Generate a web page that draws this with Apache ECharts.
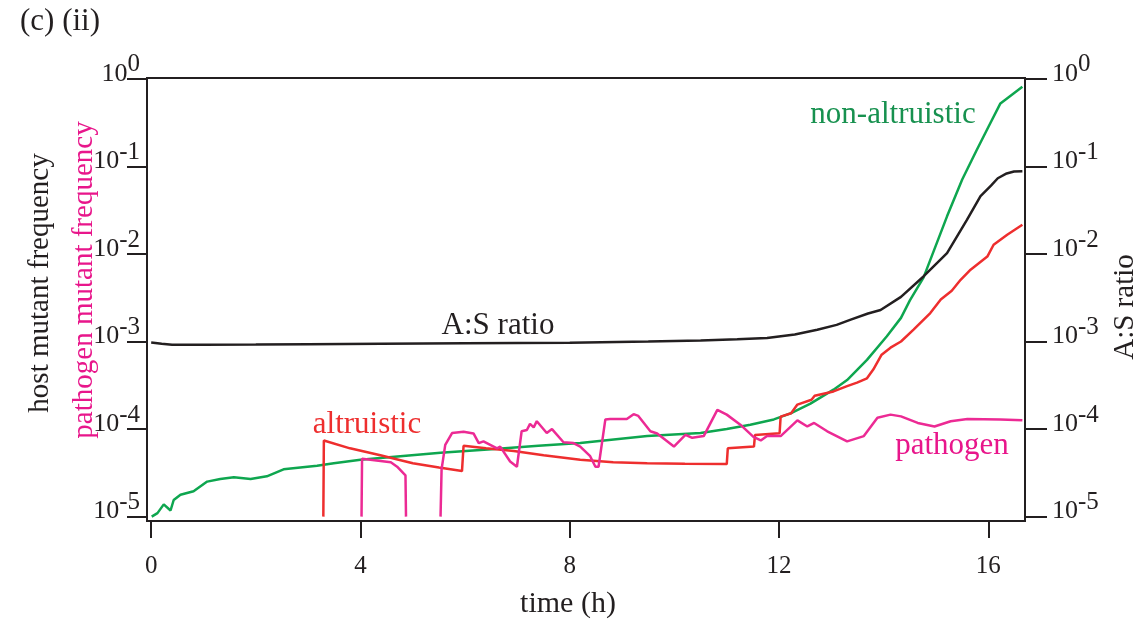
<!DOCTYPE html>
<html>
<head>
<meta charset="utf-8">
<script src="https://cdn.jsdelivr.net/npm/echarts@6/dist/echarts.min.js"></script>
<style>
  html, body { margin: 0; padding: 0; background: #fff; }
  #chart { width: 1143px; height: 627px; }
</style>
</head>
<body>
<div id="chart"></div>
<script>
const FONT = "'Liberation Serif', 'Times New Roman', serif";
const INK = '#231f20';

// time (h) and log10 of the frequency
const nonAltT = [0.01, 0.12, 0.24, 0.37, 0.43, 0.56, 0.81, 1.07, 1.32, 1.58, 1.9, 2.21, 2.53, 2.85, 3.17, 3.49, 4.0, 4.76, 5.53, 6.5, 7.4, 8.2, 9.48, 10.5, 11.0, 11.45, 11.9, 12.22, 12.6, 13.04, 13.3, 13.68, 14.06, 14.33, 14.5, 14.76, 15.21, 15.5, 15.78, 16.0, 16.23, 16.45, 16.65];
const nonAltLog = [-5.0, -4.96, -4.86, -4.93, -4.81, -4.75, -4.71, -4.60, -4.57, -4.55, -4.57, -4.54, -4.46, -4.44, -4.42, -4.39, -4.35, -4.31, -4.27, -4.23, -4.19, -4.16, -4.08, -4.045, -4.0, -3.95, -3.89, -3.82, -3.71, -3.55, -3.44, -3.21, -2.94, -2.73, -2.53, -2.27, -1.57, -1.15, -0.81, -0.55, -0.28, -0.18, -0.09];

const ratioT = [0.0, 0.2, 0.4, 1, 2, 3, 4.4, 6, 8, 9.5, 10.5, 11.2, 11.77, 12.3, 12.73, 13.1, 13.37, 13.7, 13.94, 14.33, 14.76, 15.21, 15.59, 15.85, 16.05, 16.18, 16.35, 16.49, 16.65];
const ratioLog = [-3.01, -3.025, -3.037, -3.037, -3.035, -3.03, -3.025, -3.02, -3.015, -3.0, -2.987, -2.975, -2.96, -2.92, -2.865, -2.81, -2.75, -2.68, -2.64, -2.49, -2.257, -1.99, -1.61, -1.34, -1.22, -1.135, -1.08, -1.058, -1.055];

const altT = [3.29, 3.3, 3.8, 4.38, 5.0, 5.5, 5.94, 5.97, 6.4, 6.93, 7.5, 8.2, 8.83, 9.48, 10.2, 11.0, 11.02, 11.52, 11.54, 12.01, 12.03, 12.23, 12.35, 12.62, 12.68, 13.04, 13.3, 13.49, 13.68, 13.8, 13.96, 14.13, 14.33, 14.57, 14.89, 15.09, 15.3, 15.47, 15.66, 15.98, 16.1, 16.36, 16.65];
const altLog = [-5.0, -4.13, -4.22, -4.30, -4.39, -4.44, -4.48, -4.19, -4.22, -4.25, -4.30, -4.35, -4.38, -4.39, -4.395, -4.40, -4.22, -4.20, -4.067, -4.048, -3.858, -3.82, -3.72, -3.665, -3.62, -3.57, -3.51, -3.47, -3.42, -3.32, -3.15, -3.07, -3.0, -2.865, -2.675, -2.52, -2.42, -2.295, -2.18, -2.03, -1.895, -1.78, -1.667];

// null = pathogen mutant absent (gap in the line)
const pathT = [4.02, 4.03, 4.58, 4.7, 4.86, 4.87, 5.2, 5.53, 5.55, 5.62, 5.75, 5.97, 6.16, 6.26, 6.35, 6.61, 6.67, 6.86, 6.99, 7.08, 7.18, 7.24, 7.31, 7.37, 7.56, 7.66, 7.88, 8.07, 8.2, 8.39, 8.49, 8.55, 8.68, 8.77, 9.09, 9.22, 9.31, 9.54, 9.67, 9.99, 10.21, 10.34, 10.56, 10.82, 11.0, 11.26, 11.51, 11.65, 11.77, 12.03, 12.35, 12.54, 12.67, 12.92, 13.3, 13.62, 13.88, 14.13, 14.33, 14.65, 14.97, 15.28, 15.6, 16.23, 16.65];
const pathLog = [-5.0, -4.34, -4.38, -4.43, -4.53, -5.0, null, -5.0, -4.46, -4.18, -4.045, -4.03, -4.05, -4.16, -4.14, -4.22, -4.20, -4.37, -4.43, -4.025, -4.01, -3.94, -3.98, -3.91, -4.045, -4.0, -4.15, -4.16, -4.20, -4.31, -4.43, -4.43, -3.89, -3.885, -3.885, -3.83, -3.85, -4.025, -4.05, -4.20, -4.065, -4.10, -4.08, -3.78, -3.835, -3.95, -4.09, -4.13, -4.08, -4.08, -3.90, -3.97, -3.93, -4.025, -4.14, -4.08, -3.87, -3.835, -3.855, -3.93, -3.97, -3.91, -3.885, -3.89, -3.90];

const decades = [-5, -4, -3, -2, -1, 0];
const hours = [0, 4, 8, 12, 16];

function toPairs(ts, vs) {
    return ts.map((t, i) => [t, vs[i] === null ? '-' : vs[i]]);
}

const powerLabel = {
    customValues: decades,
    formatter: v => '{b|10}{s|' + Math.round(v) + '}',
    rich: {
        b: { fontSize: 26, fontFamily: FONT, color: INK, padding: [0, 0, 10, 0] },
        s: { fontSize: 25, fontFamily: FONT, color: INK, padding: [0, 0, 28, 0] }
    }
};

function line(data, color, axis) {
    return {
        type: 'line',
        data: data,
        yAxisIndex: axis,
        showSymbol: false,
        connectNulls: false,
        lineStyle: { color: color, width: 2.5 },
        itemStyle: { color: color }
    };
}

function text(str, x, y, color, size, rot) {
    return {
        type: 'text',
        x: x,
        y: y,
        rotation: rot || 0,
        style: {
            text: str,
            fill: color,
            font: size + 'px ' + FONT,
            align: 'center',
            verticalAlign: 'middle'
        }
    };
}

const myChart = echarts.init(document.querySelector('#chart'));
const option = {
    animation: false,
    backgroundColor: '#fff',
    grid: {
        left: 147, right: 118, top: 78, bottom: 106,
        show: true, borderColor: INK, borderWidth: 2
    },
    xAxis: {
        type: 'value',
        min: -0.08,
        max: 16.7,
        axisLine: { onZero: false, lineStyle: { color: INK, width: 2 } },
        axisTick: { customValues: hours, length: 17, lineStyle: { color: INK, width: 2 } },
        axisLabel: { customValues: hours, margin: 33, fontSize: 25, fontFamily: FONT, color: INK },
        splitLine: { show: false }
    },
    yAxis: [
        {
            type: 'value',
            min: -5.05,
            max: 0.01,
            position: 'left',
            axisLine: { show: true, onZero: false, lineStyle: { color: INK, width: 2 } },
            axisTick: { show: true, customValues: decades, length: 20, lineStyle: { color: INK, width: 2 } },
            axisLabel: Object.assign({ margin: 7 }, powerLabel),
            splitLine: { show: false }
        },
        {
            type: 'value',
            min: -5.05,
            max: 0.01,
            position: 'right',
            axisLine: { show: true, onZero: false, lineStyle: { color: INK, width: 2 } },
            axisTick: { show: true, customValues: decades, length: 22, lineStyle: { color: INK, width: 2 } },
            axisLabel: Object.assign({ margin: 27 }, powerLabel),
            splitLine: { show: false }
        }
    ],
    series: [
        line(toPairs(nonAltT, nonAltLog), '#0ea64f', 0),
        line(toPairs(ratioT, ratioLog), INK, 1),
        line(toPairs(altT, altLog), '#ee2e2e', 0),
        line(toPairs(pathT, pathLog), '#ec2a94', 0)
    ],
    graphic: [
        { type: 'text', x: 20, y: 22, style: { text: '(c) (ii)', fill: INK, font: '31px ' + FONT, align: 'left', verticalAlign: 'middle' } },
        text('host mutant frequency', 40, 283, INK, 29, Math.PI / 2),
        text('pathogen mutant frequency', 84, 280, '#e8168b', 29, Math.PI / 2),
        text('A:S ratio', 1125, 307, INK, 29, Math.PI / 2),
        text('time (h)', 568, 604, INK, 30),
        text('non-altruistic', 893, 115, '#17914f', 31),
        text('A:S ratio', 498, 326, INK, 31),
        text('altruistic', 367, 425, '#ee2e2e', 31),
        text('pathogen', 952, 446, '#e8168b', 31)
    ]
};
myChart.setOption(option);
</script>
</body>
</html>
